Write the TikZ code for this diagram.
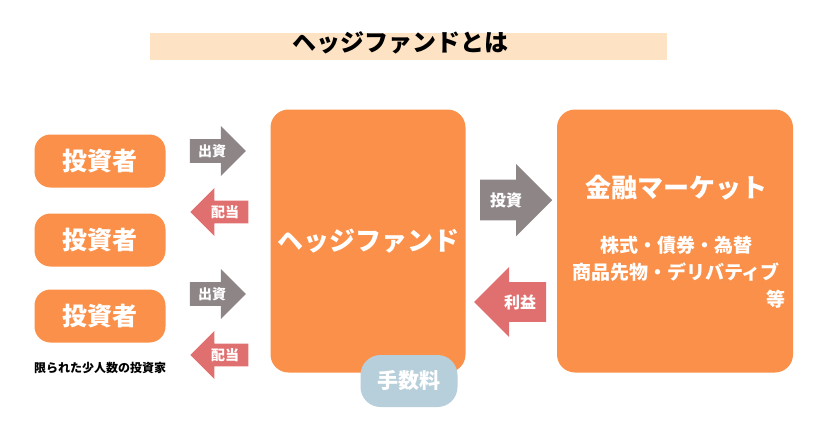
\documentclass[tikz,border=0pt]{standalone}
\usepackage{fontspec}
\setmainfont{Noto Sans CJK JP}
\usetikzlibrary{shapes.arrows}
\definecolor{boxorange}{HTML}{FA9049}
\definecolor{titlepeach}{HTML}{FDE3C4}
\definecolor{ingray}{HTML}{8E8587}
\definecolor{outred}{HTML}{E0706F}
\definecolor{feeblue}{HTML}{B7CFDA}
\begin{document}
\begin{tikzpicture}[x=1pt,y=-1pt,
investor/.style={rounded corners=16pt, fill=boxorange, text=white, font=\bfseries\fontsize{25}{28}\selectfont, minimum width=131pt, minimum height=53pt},
bigbox/.style={rounded corners=18pt, fill=boxorange, minimum height=263pt},
flowin/.style={single arrow, fill=ingray, text=white, font=\bfseries\fontsize{14}{16}\selectfont, single arrow head extend=12pt, inner ysep=4pt, inner xsep=2pt, anchor=center},
flowout/.style={flowin, fill=outred, shape border rotate=180}]
\useasboundingbox (0,0) rectangle (824,440);

% title
\node[fill=titlepeach, minimum width=517pt, minimum height=27pt] (title) at (408,46) {};
\node[font=\bfseries\fontsize{24}{26}\selectfont] (titletext) at (400,43) {ヘッジファンドとは};

% investors
\node[investor] (inv1) at (100,161) {投資者};
\node[investor] (inv2) at (100,240) {投資者};
\node[investor] (inv3) at (100,316) {投資者};
\node[font=\bfseries\fontsize{12}{14}\selectfont] (few) at (100,368) {限られた少人数の投資家};

% flows to and from the fund
\node[flowin, minimum height=56pt, minimum width=50pt] (pay1) at (212,151) {出資};
\node[flowout, minimum height=58pt, minimum width=48pt] (div1) at (225,212) {配当};
\node[flowin, minimum height=56pt, minimum width=50pt] (pay2) at (212,294) {出資};
\node[flowout, minimum height=58pt, minimum width=48pt] (div2) at (225,355) {配当};

% fund
\node[bigbox, minimum width=195pt] (fund) at (368,241) {};
\node[text=white, font=\bfseries\fontsize{26}{29}\selectfont] (fundlabel) at (fund) {ヘッジファンド};
\node[rounded corners=20pt, fill=feeblue, text=white, minimum width=97pt, minimum height=52pt, font=\bfseries\fontsize{21}{24}\selectfont] (fee) at (409,381) {手数料};

% flows to and from the market
\node[flowin, minimum height=72pt, minimum width=72pt, inner ysep=8pt, font=\bfseries\fontsize{16}{18}\selectfont] (invest) at (506,200) {投資};
\node[flowout, minimum height=72pt, minimum width=70pt, inner ysep=8pt, font=\bfseries\fontsize{16}{18}\selectfont] (profit) at (520,302) {利益};

% market
\node[bigbox, minimum width=236pt] (market) at (675,241) {};
\node[text=white, font=\bfseries\fontsize{26}{29}\selectfont] (mktname) at (676,188) {金融マーケット};
\node[text=white, font=\bfseries\fontsize{19}{22}\selectfont] (mkt1) at (676,245) {株式・債券・為替};
\node[text=white, font=\bfseries\fontsize{19}{22}\selectfont] (mkt2) at (676,272) {商品先物・デリバティブ};
\node[text=white, font=\bfseries\fontsize{19}{22}\selectfont, anchor=east] (mkt3) at (789,299) {等};
\end{tikzpicture}
\end{document}
